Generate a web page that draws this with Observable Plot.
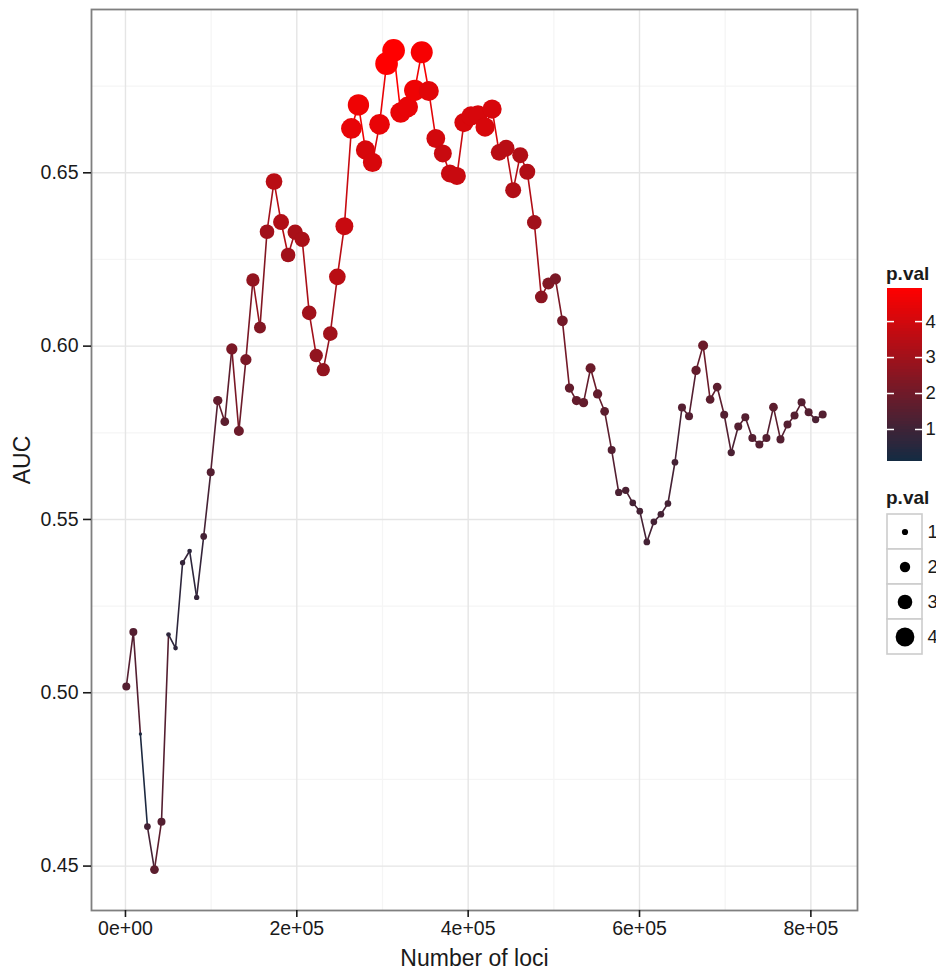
<!DOCTYPE html>
<html>
<head>
<meta charset="utf-8">
<script src="https://cdn.jsdelivr.net/npm/d3@7"></script>
<script src="https://cdn.jsdelivr.net/npm/@observablehq/plot@0.6"></script>
<style>
  html, body { margin: 0; padding: 0; background: #ffffff; overflow: hidden; }
  #wrap { position: relative; width: 936px; height: 969px; font-family: "Liberation Sans", Arial, sans-serif; }
  #wrap > div { position: absolute; }
  .ltitle { font-weight: bold; font-size: 19px; color: #1a1a1a; line-height: 1; }
</style>
</head>
<body>
<div id="wrap">
  <div id="main" style="left:0;top:0"></div>
  <div class="ltitle" style="left:886px;top:264px">p.val</div>
  <div id="cbar" style="left:880px;top:288px"></div>
  <div class="ltitle" style="left:886px;top:488px">p.val</div>
  <div id="sizes" style="left:880px;top:514px"></div>
</div>
<script>
// ---- data ----
const loci = [1000, 9210, 17420, 25630, 33840, 42050, 50260, 58470, 66680, 74890,
  83100, 91310, 99520, 107730, 115940, 124150, 132360, 140570, 148780, 156990,
  165200, 173410, 181620, 189830, 198040, 206250, 214460, 222670, 230880, 239090,
  247300, 255510, 263720, 271930, 280140, 288350, 296560, 304770, 312980, 321190,
  329400, 337610, 345820, 354030, 362240, 370450, 378660, 386870, 395080, 403290,
  411500, 419710, 427920, 436130, 444340, 452550, 460760, 468970, 477180, 485390,
  493600, 501810, 510020, 518230, 526440, 534650, 542860, 551070, 559280, 567490,
  575700, 583910, 592120, 600330, 608540, 616750, 624960, 633170, 641380, 649590,
  657800, 666010, 674220, 682430, 690640, 698850, 707060, 715270, 723480, 731690,
  739900, 748110, 756320, 764530, 772740, 780950, 789160, 797370, 805580, 813790];

const auc = [0.5018, 0.5175, 0.4881, 0.4614, 0.4490, 0.4628, 0.5168, 0.5129, 0.5375, 0.5409,
  0.5275, 0.5451, 0.5636, 0.5843, 0.5782, 0.5992, 0.5755, 0.5961, 0.6191, 0.6054,
  0.6330, 0.6475, 0.6358, 0.6263, 0.6329, 0.6308, 0.6096, 0.5973, 0.5932, 0.6036,
  0.6200, 0.6346, 0.6628, 0.6696, 0.6566, 0.6530, 0.6640, 0.6815, 0.6853, 0.6674,
  0.6690, 0.6738, 0.6848, 0.6736, 0.6599, 0.6556, 0.6498, 0.6491, 0.6645, 0.6664,
  0.6667, 0.6632, 0.6684, 0.6559, 0.6571, 0.6450, 0.6551, 0.6503, 0.6357, 0.6142,
  0.6181, 0.6194, 0.6073, 0.5879, 0.5843, 0.5837, 0.5936, 0.5862, 0.5812, 0.5700,
  0.5578, 0.5584, 0.5548, 0.5524, 0.5435, 0.5493, 0.5515, 0.5546, 0.5665, 0.5823,
  0.5798, 0.5930, 0.6002, 0.5846, 0.5882, 0.5802, 0.5693, 0.5768, 0.5795, 0.5735,
  0.5716, 0.5735, 0.5824, 0.5731, 0.5774, 0.5800, 0.5838, 0.5809, 0.5788, 0.5803];

const pval = [1.43, 1.43, 0.31, 1.12, 1.60, 1.43, 0.64, 0.64, 0.79, 0.64,
  0.79, 1.12, 1.43, 1.74, 1.60, 2.20, 1.90, 2.20, 2.70, 2.38,
  3.00, 3.50, 3.33, 3.00, 3.17, 3.17, 3.00, 2.70, 2.70, 3.00,
  3.50, 3.80, 4.45, 4.60, 4.10, 4.10, 4.45, 4.92, 4.92, 4.45,
  4.45, 4.60, 4.76, 4.30, 4.00, 3.80, 3.80, 3.80, 4.10, 4.10,
  4.10, 4.10, 4.10, 3.50, 3.50, 3.33, 3.33, 3.33, 3.00, 2.55,
  2.38, 2.20, 2.07, 1.74, 1.74, 1.74, 1.90, 1.74, 1.60, 1.43,
  1.26, 1.26, 1.12, 1.12, 1.12, 1.12, 1.12, 1.12, 1.12, 1.43,
  1.43, 1.74, 1.90, 1.60, 1.60, 1.43, 1.26, 1.43, 1.43, 1.43,
  1.43, 1.43, 1.60, 1.43, 1.43, 1.43, 1.43, 1.43, 1.26, 1.43];

const xTicks = [0, 200000, 400000, 600000, 800000];
const xTickLabels = ["0e+00", "2e+05", "4e+05", "6e+05", "8e+05"];
const xMinor = [100000, 300000, 500000, 700000];
const yTicks = [0.45, 0.50, 0.55, 0.60, 0.65];
const yTickLabels = ["0.45", "0.50", "0.55", "0.60", "0.65"];
const yMinor = [0.475, 0.525, 0.575, 0.625, 0.675];
const legendTicks = [1, 2, 3, 4];

// ---- build ----
const rows = loci.map((x, i) => ({x, auc: auc[i], p: pval[i]}));
function expand(ext, f) { const d = (ext[1] - ext[0]) * f; return [ext[0] - d, ext[1] + d]; }
const xDomain = expand(d3.extent(loci), 0.05);
const yDomain = expand(d3.extent(auc), 0.05);
const pExtent = [0.11, 4.92];

const FONT = "'Liberation Sans', Arial, Helvetica, sans-serif";
const colorScale = {type: "linear", domain: pExtent, range: ["#132B43", "#FF0000"], interpolate: "rgb"};
const rScale = {type: "linear", domain: [0, 5], range: [1, 11.5]};

const main = Plot.plot({
  width: 936, height: 969,
  marginLeft: 91, marginRight: 79, marginTop: 9, marginBottom: 59,
  style: {fontFamily: FONT, fontSize: "19.5px", color: "#1a1a1a", background: "white", overflow: "visible"},
  x: {domain: xDomain},
  y: {domain: yDomain},
  color: colorScale,
  r: rScale,
  marks: [
    Plot.gridX(xMinor, {stroke: "#f5f5f5", strokeOpacity: 1, strokeWidth: 1.3}),
    Plot.gridY(yMinor, {stroke: "#f5f5f5", strokeOpacity: 1, strokeWidth: 1.3}),
    Plot.gridX(xTicks, {stroke: "#e5e5e5", strokeOpacity: 1, strokeWidth: 1.4}),
    Plot.gridY(yTicks, {stroke: "#e5e5e5", strokeOpacity: 1, strokeWidth: 1.4}),
    Plot.line(rows, {x: "x", y: "auc", stroke: "p", z: null, strokeWidth: 1.6}),
    Plot.dot(rows, {x: "x", y: "auc", r: "p", fill: "p", sort: null}),
    Plot.frame({stroke: "#7f7f7f", strokeWidth: 1.8}),
    Plot.axisX(xTicks, {
      tickFormat: d => xTickLabels[xTicks.indexOf(d)],
      tickSize: 7, tickPadding: 4, strokeWidth: 1.6, fontSize: 19.5,
      label: "Number of loci", labelAnchor: "center", labelArrow: "none", labelOffset: 55
    }),
    Plot.axisY(yTicks, {
      tickFormat: d => yTickLabels[yTicks.indexOf(d)],
      tickSize: 8, tickPadding: 5, strokeWidth: 1.6, fontSize: 19.5,
      label: "AUC", labelAnchor: "center", labelArrow: "none", labelOffset: 78
    })
  ]
});
main.querySelectorAll("[aria-label='x-axis label'] text, [aria-label='y-axis label'] text")
  .forEach(t => t.setAttribute("font-size", "23"));
document.getElementById("main").append(main);

// color bar legend
const nb = 60;
const bins = d3.range(nb).map(i => {
  const lo = pExtent[0] + (pExtent[1] - pExtent[0]) * i / nb;
  const hi = pExtent[0] + (pExtent[1] - pExtent[0]) * (i + 1) / nb;
  return {lo, hi, mid: (lo + hi) / 2};
});
const cbar = Plot.plot({
  width: 56, height: 173,
  marginLeft: 7, marginRight: 14, marginTop: 0, marginBottom: 0,
  style: {fontFamily: FONT, fontSize: "18px", color: "#1a1a1a", background: "transparent", overflow: "visible"},
  x: {domain: [0, 1], axis: null},
  y: {domain: pExtent, axis: null},
  color: colorScale,
  marks: [
    Plot.rect(bins, {x1: 0, x2: 1, y1: "lo", y2: "hi", fill: "mid", shapeRendering: "crispEdges"}),
    Plot.ruleY(legendTicks, {x1: 0, x2: 0.2, stroke: "white", strokeWidth: 1.5}),
    Plot.ruleY(legendTicks, {x1: 0.8, x2: 1, stroke: "white", strokeWidth: 1.5}),
    Plot.axisY(legendTicks, {anchor: "right", tickSize: 0, tickPadding: 3, fontSize: 18.5, label: null})
  ]
});
document.getElementById("cbar").append(cbar);

// size legend
const sizes = Plot.plot({
  width: 56, height: 140,
  marginLeft: 7, marginRight: 14, marginTop: 0, marginBottom: 0,
  style: {fontFamily: FONT, fontSize: "18px", color: "#1a1a1a", background: "transparent", overflow: "visible"},
  x: {domain: ["k"], axis: null, padding: 0},
  y: {domain: legendTicks.map(String), padding: 0, axis: null},
  r: rScale,
  marks: [
    Plot.cell(legendTicks, {x: () => "k", y: d => String(d), fill: "white", stroke: "#cccccc", strokeWidth: 1.6}),
    Plot.dot(legendTicks, {x: () => "k", y: d => String(d), r: d => d, fill: "black"}),
    Plot.axisY({anchor: "right", tickSize: 0, tickPadding: 5, fontSize: 18.5, label: null})
  ]
});
document.getElementById("sizes").append(sizes);
</script>
</body>
</html>
